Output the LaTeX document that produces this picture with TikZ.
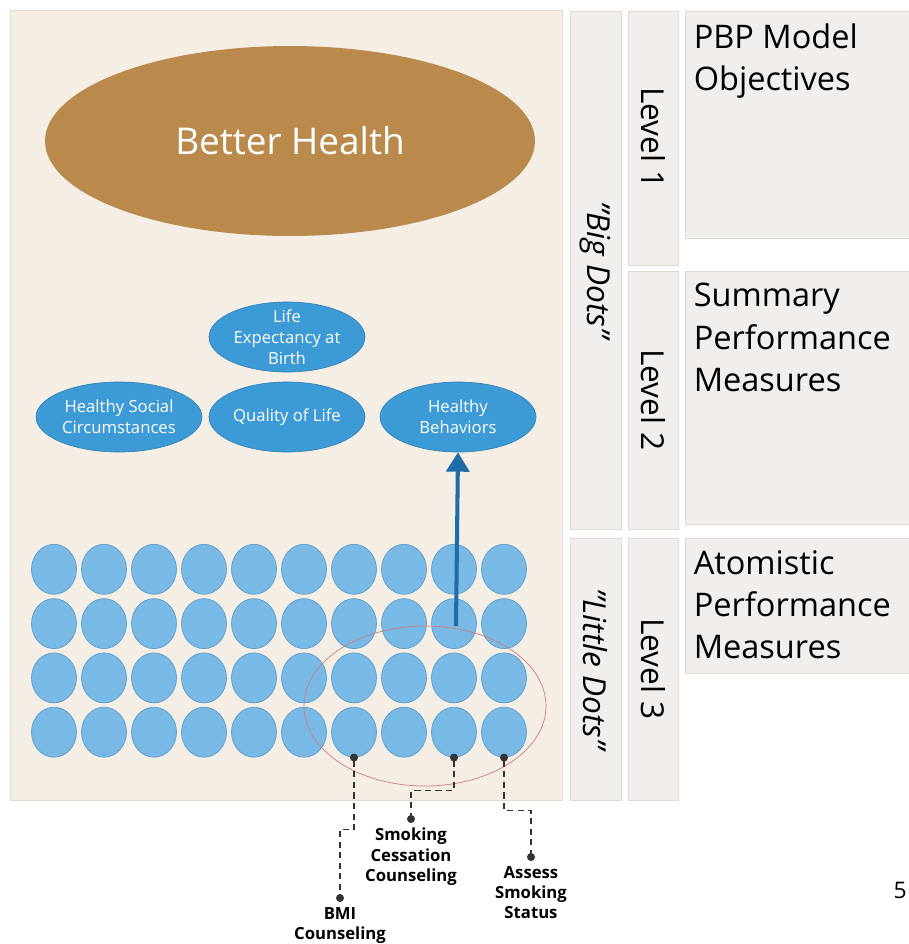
\documentclass[tikz,border=0pt]{standalone}
\usepackage{fontspec}
\setmainfont{Open Sans}
\usetikzlibrary{positioning,arrows.meta,shapes.geometric}

\definecolor{panelbg}{HTML}{F5EEE4}
\definecolor{panelrule}{HTML}{E4DCD2}
\definecolor{goldbrown}{HTML}{B98A4C}
\definecolor{midblue}{HTML}{3C9AD7}
\definecolor{lightblue}{HTML}{79B9E6}
\definecolor{dotrule}{HTML}{5B9CCB}
\definecolor{arrowblue}{HTML}{1F6DA8}
\definecolor{rosered}{HTML}{D07C7C}
\definecolor{greybox}{HTML}{F1EEEB}
\definecolor{greyrule}{HTML}{DDD9D4}

\begin{document}
\begin{tikzpicture}
  [x=0.02cm,y=-0.02cm,
   goal/.style={ellipse,fill=goldbrown,inner sep=0,minimum width=9.8cm,minimum height=3.8cm,
                text=white,font=\fontsize{21}{25}\selectfont},
   summary/.style={ellipse,fill=midblue,draw=midblue!85!black,thin,inner sep=0,
                   minimum width=3.12cm,minimum height=1.4cm},
   inlabel/.style={text=white,align=center,font=\fontsize{9.5}{12}\selectfont},
   smalldot/.style={ellipse,fill=lightblue,draw=dotrule,thin,inner sep=0,
                    minimum width=0.9cm,minimum height=1cm},
   colbox/.style={rectangle,fill=greybox,draw=greyrule,thin,inner sep=0},
   coltext/.style={rotate=-90,font=\fontsize{18}{22}\selectfont},
   headtext/.style={anchor=north west,align=left,inner sep=0,
                    font=\fontsize{18.5}{24}\selectfont},
   lead/.style={draw=black!80,line width=0.8pt,dash pattern=on 3.5pt off 2.5pt,
                {Circle[length=4.5pt,sep=-2.25pt]}-{Circle[length=4.5pt,sep=-2.25pt]}},
   leadtext/.style={align=center,inner sep=0,font=\bfseries\fontsize{9.5}{11.5}\selectfont}]
  \useasboundingbox (0,0) rectangle (909,944);

  % main panel
  \node[rectangle,fill=panelbg,draw=panelrule,thin,minimum width=11.04cm,minimum height=15.8cm,
        inner sep=0] (panel) at (286,405) {};

  % level 1 and level 2
  \node[goal] (better) at (290,141) {Better Health};
  \node[summary,label={[inlabel]center:Life\\Expectancy at\\Birth}] (life) at (287,337) {};
  \node[summary,minimum width=3.32cm,label={[inlabel]center:Healthy Social\\Circumstances}] (social) at (119,417) {};
  \node[summary,label={[inlabel]center:Quality of Life}] (quality) at (287,417) {};
  \node[summary,label={[inlabel]center:Healthy\\Behaviors}] (behav) at (458,417) {};

  % level 3: little dots
  \foreach \r in {1,...,4}
    \foreach \c in {1,...,10}
      \node[smalldot] (d-\r-\c) at ({4+50*\c},{515+54.3*\r}) {};

  \node[ellipse,draw=rosered,thin,inner sep=0,minimum width=4.84cm,minimum height=3.2cm] (smokers) at (425,706) {};
  \coordinate (rise) at (456,626);
  \draw[arrowblue,line width=2.3pt,-{Triangle[length=11pt,width=13pt]}] (rise) -- (behav.south);

  % measures below the panel
  \coordinate (bmipt) at (340,898);
  \coordinate (cesspt) at (411,819);
  \coordinate (assesspt) at (531,857);
  \draw[lead] (d-4-7.south) -- ++(0,72) -| (bmipt);
  \draw[lead] (d-4-9.south) -- ++(0,33) -| (cesspt);
  \draw[lead] (d-4-10.south) -- ++(0,53) -| (assesspt);
  \node[leadtext,below=5pt of bmipt] (bmi) {BMI\\Counseling};
  \node[leadtext,below=5pt of cesspt] (cess) {Smoking\\Cessation\\Counseling};
  \node[leadtext,below=5pt of assesspt] (assess) {Assess\\Smoking\\Status};

  % right hand columns
  \node[colbox,minimum width=1.02cm,minimum height=10.36cm,
        label={[coltext,font=\itshape\fontsize{18}{22}\selectfont]center:"Big Dots"}] (bigcol) at (595.5,270) {};
  \node[colbox,minimum width=1.02cm,minimum height=5.24cm,
        label={[coltext,font=\itshape\fontsize{18}{22}\selectfont]center:"Little Dots"}] (littlecol) at (595.5,669) {};
  \node[colbox,minimum width=1cm,minimum height=5.08cm,label={[coltext]center:Level 1}] (lev1) at (653,138) {};
  \node[colbox,minimum width=1cm,minimum height=5.16cm,label={[coltext]center:Level 2}] (lev2) at (653,400) {};
  \node[colbox,minimum width=1cm,minimum height=5.24cm,label={[coltext]center:Level 3}] (lev3) at (653,669) {};

  \node[colbox,minimum width=4.48cm,minimum height=4.54cm] (pbp) at (797,124.5) {};
  \node[colbox,minimum width=4.48cm,minimum height=5.06cm] (spm) at (797,397.5) {};
  \node[colbox,minimum width=4.48cm,minimum height=2.7cm] (apm) at (797,605.5) {};
  \node[headtext,below right=7pt and 5pt of pbp.north west] (pbptext) {PBP Model\\Objectives};
  \node[headtext,below right=7pt and 5pt of spm.north west] (spmtext) {Summary\\Performance\\Measures};
  \node[headtext,below right=7pt and 5pt of apm.north west] (apmtext) {Atomistic\\Performance\\Measures};

  \node[anchor=east,inner sep=0,font=\fontsize{13}{15}\selectfont] (page) at (907,890) {5};
\end{tikzpicture}
\end{document}
